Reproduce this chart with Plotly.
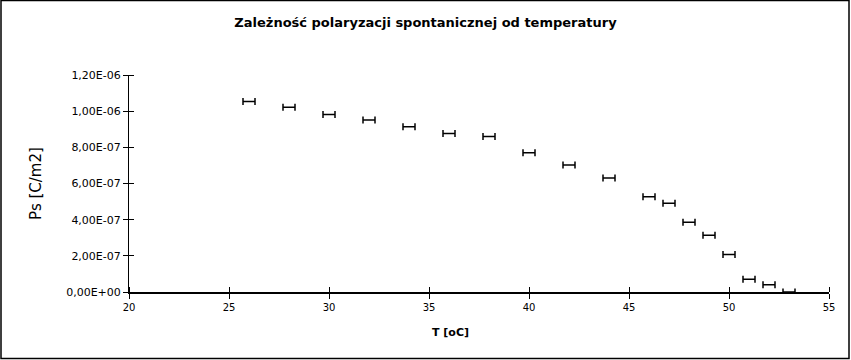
import plotly.graph_objects as go

# Data
temperature = [26, 28, 30, 32, 34, 36, 38, 40, 42, 44, 46, 47, 48, 49, 50, 51, 52, 53]
ps_values = [1.054e-6, 1.021e-6, 0.982e-6, 0.951e-6, 0.914e-6, 0.877e-6, 0.860e-6,
             0.770e-6, 0.702e-6, 0.631e-6, 0.527e-6, 0.491e-6, 0.386e-6, 0.314e-6,
             0.208e-6, 0.070e-6, 0.040e-6, 0.0]
t_error = [0.3] * len(temperature)

x_ticks = [20, 25, 30, 35, 40, 45, 50, 55]
y_tickvals = [0, 2e-7, 4e-7, 6e-7, 8e-7, 1.0e-6, 1.2e-6]
y_ticktext = ["0,00E+00", "2,00E-07", "4,00E-07", "6,00E-07", "8,00E-07", "1,00E-06", "1,20E-06"]

title_text = "Zależność polaryzacji spontanicznej od temperatury"
x_title = "T [oC]"
y_title = "Ps [C/m2]"

W, H = 851, 360
L, R, T, B = 129, 22, 75, 68
PW, PH = W - L - R, H - T - B

FONT = "DejaVu Sans"

fig = go.Figure()
fig.add_trace(go.Scatter(
    x=temperature, y=ps_values, mode="markers",
    marker=dict(size=1, color="rgba(0,0,0,0)"),
    error_x=dict(type="data", array=t_error, symmetric=True,
                 color="black", thickness=1.5, width=3.5),
    cliponaxis=False, showlegend=False, hoverinfo="x+y",
))

common_axis = dict(showgrid=False, zeroline=False, ticklen=5, tickwidth=1,
                   automargin=False, ticks="outside", showline=True, linecolor="black",
                   tickcolor="black")

fig.update_layout(
    width=W, height=H,
    margin=dict(l=L, r=R, t=T, b=B, autoexpand=False),
    paper_bgcolor="white", plot_bgcolor="white",
    title=dict(text="<b>" + title_text + "</b>", x=0.5, xref="container",
               xanchor="center", y=1 - 22 / H, yanchor="middle", yref="container",
               font=dict(family=FONT, size=13, color="black")),
    xaxis=dict(range=[20, 55], tickvals=x_ticks, linewidth=1.5,
               tickfont=dict(family=FONT, size=10, color="black"),
               minor=dict(tickvals=x_ticks, ticks="inside", ticklen=5, tickwidth=1,
                          tickcolor="black", showgrid=False),
               **common_axis),
    yaxis=dict(range=[0, 1.2e-6], tickvals=y_tickvals, ticktext=y_ticktext, linewidth=1,
               tickfont=dict(family=FONT, size=11, color="black"),
               minor=dict(tickvals=y_tickvals, ticks="inside", ticklen=5, tickwidth=1,
                          tickcolor="black", showgrid=False),
               title=dict(text=y_title, font=dict(family=FONT, size=15, color="black"),
                          standoff=20),
               **common_axis),
    annotations=[dict(text="<b>" + x_title + "</b>", xref="paper", yref="paper",
                      x=(450 - L) / PW, y=(H - B - 332) / PH,
                      xanchor="center", yanchor="middle", showarrow=False,
                      font=dict(family=FONT, size=11, color="black"))],
    shapes=[dict(type="rect", xref="paper", yref="paper", layer="above",
                 x0=(1 - L) / PW, x1=(849 - L) / PW,
                 y0=(H - B - 358.5) / PH, y1=(H - B - 0.5) / PH,
                 line=dict(color="black", width=1.5), fillcolor="rgba(0,0,0,0)")],
)

fig.write_html("out.html", config={"displayModeBar": False},
               post_script="document.body.style.margin='0';")
